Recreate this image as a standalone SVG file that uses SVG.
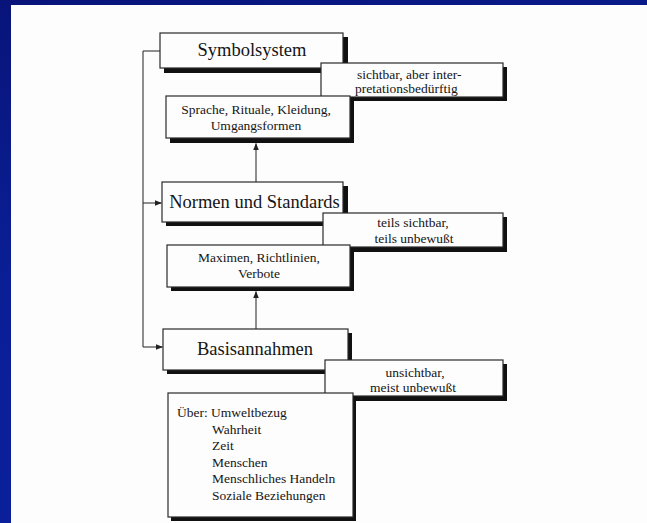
<svg xmlns="http://www.w3.org/2000/svg" width="647" height="523" viewBox="0 0 647 523">
  <defs>
    <linearGradient id="frame" x1="0" y1="0" x2="0.3" y2="1">
      <stop offset="0" stop-color="#08147a"/>
      <stop offset="0.5" stop-color="#0a1f96"/>
      <stop offset="1" stop-color="#0b1f9c"/>
    </linearGradient>
    <marker id="arrow" viewBox="0 0 8 8" refX="7.5" refY="4" markerWidth="7" markerHeight="7" markerUnits="userSpaceOnUse" orient="auto">
      <path d="M0,0.8 L8,4 L0,7.2 Z" fill="#222"/>
    </marker>
    <style>
      .box { fill: #fdfdfd; stroke: #2a2a2a; stroke-width: 1.2; }
      .shadow { fill: #111; }
      .title { font-family: "Liberation Serif", "Times New Roman", serif; font-size: 18.5px; fill: #151515; text-anchor: middle; }
      .sub { font-family: "Liberation Serif", "Times New Roman", serif; font-size: 13.5px; fill: #151515; text-anchor: middle; }
      .list { font-family: "Liberation Serif", "Times New Roman", serif; font-size: 13.5px; fill: #151515; }
      .line { fill: none; stroke: #333; stroke-width: 1.1; }
    </style>
  </defs>

  <!-- slide frame and page -->
  <rect x="0" y="0" width="647" height="523" fill="url(#frame)"/>
  <rect x="11" y="5" width="636" height="518" fill="#fdfdfd"/>

  <!-- connectors -->
  <g id="connectors">
    <path class="line" d="M143,51 H160"/>
    <path class="line" d="M143,51 V347"/>
    <path class="line" d="M143,203 H161.5" marker-end="url(#arrow)"/>
    <path class="line" d="M143,347 H162.5" marker-end="url(#arrow)"/>
    <path class="line" d="M256,182 V143.5" marker-end="url(#arrow)"/>
    <path class="line" d="M256,329 V291.5" marker-end="url(#arrow)"/>
  </g>

  <!-- level 1 -->
  <g id="symbolsystem">
    <rect class="shadow" x="164" y="37" width="184" height="36"/>
    <rect class="box" x="160" y="33" width="183" height="35"/>
    <text class="title" x="252" y="56">Symbolsystem</text>
  </g>

  <g id="label-sichtbar">
    <rect class="shadow" x="325" y="67" width="182" height="34"/>
    <rect class="box" x="321" y="63" width="182" height="34"/>
    <text class="list" x="357" y="79" font-size="14">sichtbar, aber inter-</text>
    <text class="list" x="355" y="92.5" font-size="14">pretationsbedürftig</text>
  </g>

  <g id="sprache">
    <rect class="shadow" x="170" y="100" width="184" height="43"/>
    <rect class="box" x="166" y="96" width="184" height="42"/>
    <text class="sub" x="256" y="114" font-size="14">Sprache, Rituale, Kleidung,</text>
    <text class="sub" x="256" y="130" font-size="14">Umgangsformen</text>
  </g>

  <!-- level 2 -->
  <g id="normen">
    <rect class="shadow" x="166" y="186" width="182" height="40"/>
    <rect class="box" x="162" y="182" width="181" height="40"/>
    <text class="title" x="254.5" y="208">Normen und Standards</text>
  </g>

  <g id="label-teils">
    <rect class="shadow" x="327" y="217" width="180" height="35"/>
    <rect class="box" x="323" y="213" width="180" height="34"/>
    <text class="sub" x="413" y="227">teils sichtbar,</text>
    <text class="sub" x="414" y="243">teils unbewußt</text>
  </g>

  <g id="maximen">
    <rect class="shadow" x="171" y="249" width="183" height="42"/>
    <rect class="box" x="167" y="245" width="183" height="42"/>
    <text class="sub" x="259" y="262">Maximen, Richtlinien,</text>
    <text class="sub" x="259" y="278">Verbote</text>
  </g>

  <!-- level 3 -->
  <g id="basisannahmen">
    <rect class="shadow" x="167" y="333" width="185" height="41"/>
    <rect class="box" x="163" y="329" width="185" height="41"/>
    <text class="title" x="255" y="355">Basisannahmen</text>
  </g>

  <g id="label-unsichtbar">
    <rect class="shadow" x="329" y="364" width="178" height="37"/>
    <rect class="box" x="325" y="360" width="178" height="36"/>
    <text class="sub" x="415" y="377">unsichtbar,</text>
    <text class="sub" x="413" y="392">meist unbewußt</text>
  </g>

  <g id="ueber">
    <rect class="shadow" x="171" y="396" width="185" height="125"/>
    <rect class="box" x="168" y="393" width="185" height="124"/>
    <text class="list" x="177" y="417">Über: Umweltbezug</text>
    <text class="list" x="212" y="434">Wahrheit</text>
    <text class="list" x="212" y="450">Zeit</text>
    <text class="list" x="212" y="467">Menschen</text>
    <text class="list" x="212" y="483">Menschliches Handeln</text>
    <text class="list" x="212" y="500">Soziale Beziehungen</text>
  </g>
</svg>
